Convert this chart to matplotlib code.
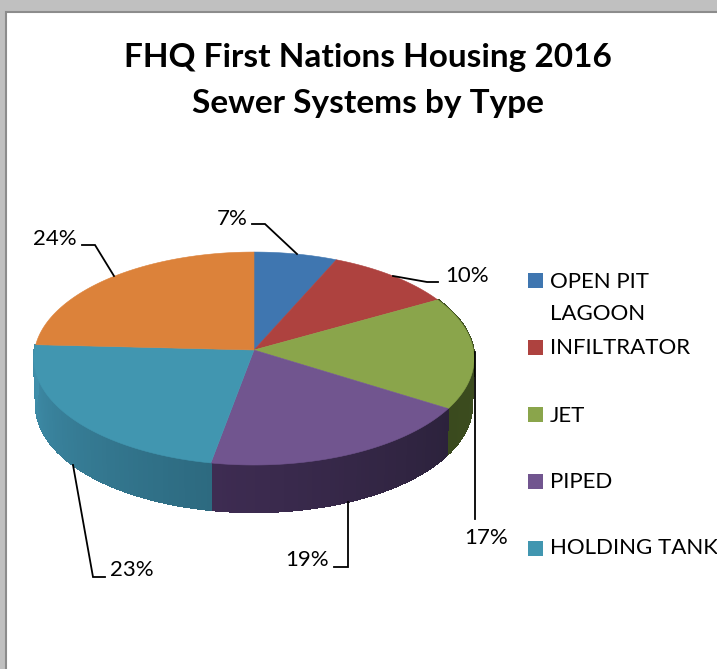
import numpy as np
import matplotlib
matplotlib.use("Agg")
import matplotlib.pyplot as plt
from matplotlib.colors import to_rgb
from matplotlib.patches import Rectangle

WIDTH = 717
HEIGHT = 669

# chart data
categories = ["OPEN PIT\nLAGOON", "INFILTRATOR", "JET", "PIPED", "HOLDING TANK", "OTHER"]
shares = [6.6, 10.2, 17.1, 19.0, 22.9, 24.2]

# styles
top_colors = ["#3f76b0", "#ae423f", "#8aa54b", "#71558f", "#4196b0", "#dc823a"]
wall_start = {2: "#3f5020", 3: "#2c223c", 4: "#2d6a80"}
wall_end = {2: "#3a4a1e", 3: "#3e2c52", 4: "#3f8eaa"}

# pie geometry, in pixels of the picture
cx, cy = 254, 350
rx, ry = 219.4, 105.8
tilt = 0.08
depth = 47

# label text position and leader line for every slice
label_pos = [(232, 219), (467, 276), (486, 538), (307, 560), (132, 570), (55, 239)]
leaders = [
    [(252, 224), (265, 224), (297, 254)],
    [(393, 276), (427, 282), (438, 282)],
    [(474.5, 352), (474.5, 519)],
    [(348, 502), (348, 567), (334, 567)],
    [(73, 465), (93, 577), (105, 577)],
    [(82, 245), (95, 245), (114, 276)],
]

legend_y = [280.5, 347.5, 414.5, 481.5, 548.5]
legend_text_y = [298, 348.5, 415.5, 482.5, 548.5]


def rim(angle):
    # clockwise angle from the top of the pie to picture coords
    u = np.sin(angle)
    v = np.cos(angle)
    w = 1 + tilt * v
    return cx + rx * u / w, cy - ry * v / w


fig = plt.figure(figsize=(WIDTH / 100, HEIGHT / 100), dpi=100)
ax = fig.add_axes([0, 0, 1, 1])
ax.set_xlim(0, WIDTH)
ax.set_ylim(HEIGHT, 0)
ax.axis("off")
plt.rcParams["font.family"] = ["Lato", "DejaVu Sans"]

# window frame behind the chart
ax.add_patch(Rectangle((0, 0), WIDTH, HEIGHT, fc="#c0c0c0", ec="none"))
ax.add_patch(Rectangle((6, 12), WIDTH, HEIGHT, fc="white", ec="#8c8c8c", lw=1.5))

ax.text(368, 58, "FHQ First Nations Housing 2016", ha="center", va="center",
        fontsize=24, fontweight="bold", color="black")
ax.text(368, 103, "Sewer Systems by Type", ha="center", va="center",
        fontsize=24, fontweight="bold", color="black")

edges = np.cumsum([0] + shares) / 100 * 2 * np.pi

# side wall first, only the front slices show, top face goes over it
for i in wall_start:
    angles = np.linspace(edges[i], edges[i + 1], 60)
    x, y = rim(angles)
    first = np.array(to_rgb(wall_start[i]))
    last = np.array(to_rgb(wall_end[i]))
    for j in range(len(angles) - 1):
        mix = j / (len(angles) - 2)
        col = first * (1 - mix) + last * mix
        qx = [x[j], x[j + 1], cx + (x[j + 1] - cx) * 0.99, cx + (x[j] - cx) * 0.99]
        qy = [y[j], y[j + 1], y[j + 1] + depth, y[j] + depth]
        ax.fill(qx, qy, color=col, lw=1.0, antialiased=False)

# top face
for i in range(len(shares)):
    angles = np.linspace(edges[i], edges[i + 1], 80)
    x, y = rim(angles)
    ax.fill(np.r_[cx, x], np.r_[cy, y], color=top_colors[i], lw=0.4)

# leader lines and labels
for i in range(len(shares)):
    pts = np.array(leaders[i])
    ax.plot(pts[:, 0], pts[:, 1], color="black", lw=1.3, solid_joinstyle="miter")
    ax.text(label_pos[i][0], label_pos[i][1], "%d%%" % round(shares[i]), ha="center",
            va="center", fontsize=16, color="black")

# legend, the last slice has no entry
for i in range(5):
    ax.add_patch(Rectangle((528, legend_y[i] - 7.5), 15, 15, fc=top_colors[i], ec="none"))
    ax.text(550, legend_text_y[i], categories[i], ha="left", va="center", fontsize=16,
            color="black", linespacing=1.75, clip_on=True)

fig.savefig("out.png", dpi=100)
